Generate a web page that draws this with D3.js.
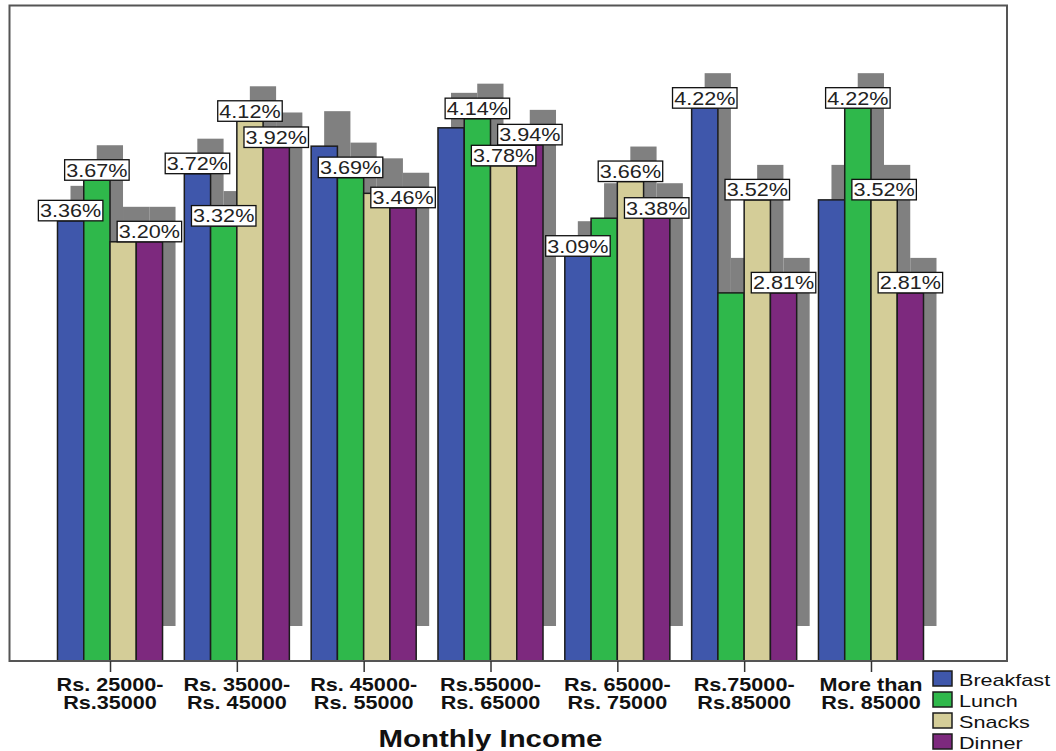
<!DOCTYPE html>
<html>
<head>
<meta charset="utf-8">
<script src="https://cdn.jsdelivr.net/npm/d3@7"></script>
<style>
  html, body { margin: 0; padding: 0; background: #fff; }
  svg { display: block; font-family: Arial, "Liberation Sans", sans-serif; }
</style>
</head>
<body>
<svg id="chart" width="1056" height="751"></svg>
<script>
// Monthly income groups (two-line axis labels)
const categories = [
  ["Rs. 25000-", "Rs.35000"],
  ["Rs. 35000-", "Rs. 45000"],
  ["Rs. 45000-", "Rs. 55000"],
  ["Rs.55000-", "Rs. 65000"],
  ["Rs. 65000-", "Rs. 75000"],
  ["Rs.75000-", "Rs.85000"],
  ["More than", "Rs. 85000"]
];
const seriesNames = ["Breakfast", "Lunch", "Snacks", "Dinner"];
const seriesColors = ["#3f57ab", "#2fb84b", "#d4cd98", "#7d297e"];

// Percentages per meal, one value per income group
const breakfast = [3.36, 3.72, 3.93, 4.07, 3.09, 4.22, 3.52];
const lunch     = [3.67, 3.32, 3.69, 4.14, 3.38, 2.81, 4.22];
const snacks    = [3.20, 4.12, 3.57, 3.78, 3.66, 3.52, 3.52];
const dinner    = [3.20, 3.92, 3.46, 3.94, 3.38, 2.81, 2.81];

// Which value labels are drawn (overlapping ones are left out)
const breakfastLabel = [true, true, false, false, true, true, false];
const lunchLabel     = [true, true, true, true, false, false, true];
const snacksLabel    = [false, true, false, true, true, true, true];
const dinnerLabel    = [true, true, true, true, true, true, true];

const yTicks = [0, 1, 2, 3, 4, 5];

const seriesValues = [breakfast, lunch, snacks, dinner];
const seriesLabels = [breakfastLabel, lunchLabel, snacksLabel, dinnerLabel];

const svg = d3.select("#chart");

// Plot frame
const frame = { left: 9.5, top: 5.5, right: 1007, bottom: 661 };
const SX = 1.2; // horizontal text stretch

const x0 = d3.scaleBand()
  .domain(d3.range(categories.length))
  .range([46.6, 934.4])
  .paddingInner(0).paddingOuter(0);

const x1 = d3.scaleBand()
  .domain(seriesNames)
  .range([0, x0.bandwidth()])
  .paddingInner(0).paddingOuter(0.415);

const y = d3.scaleLinear().domain([0, d3.max(yTicks)]).range([661, 6]);

// Flattened table built from the arrays
const table = [];
categories.forEach((c, i) => {
  seriesNames.forEach((s, j) => {
    table.push({ cat: i, series: s, si: j, value: seriesValues[j][i], showLabel: seriesLabels[j][i] });
  });
});

// Frame background
svg.append("rect")
  .attr("x", frame.left).attr("y", frame.top)
  .attr("width", frame.right - frame.left).attr("height", frame.bottom - frame.top)
  .attr("fill", "#fff");

const shadowDx = 13, shadowDy = -35;

// Drop shadows behind the bars
svg.append("g").selectAll("rect").data(table).join("rect")
  .attr("x", d => x0(d.cat) + x1(d.series) + shadowDx)
  .attr("y", d => y(d.value) + shadowDy)
  .attr("width", x1.bandwidth())
  .attr("height", d => y(0) - y(d.value))
  .attr("fill", "#808080");

// Bars
svg.append("g").selectAll("rect").data(table).join("rect")
  .attr("x", d => x0(d.cat) + x1(d.series))
  .attr("y", d => y(d.value))
  .attr("width", x1.bandwidth())
  .attr("height", d => y(0) - y(d.value))
  .attr("fill", d => seriesColors[d.si])
  .attr("stroke", "#1c1c1c")
  .attr("stroke-width", 1.5);

// Frame border
svg.append("rect")
  .attr("x", frame.left).attr("y", frame.top)
  .attr("width", frame.right - frame.left).attr("height", frame.bottom - frame.top)
  .attr("fill", "none")
  .attr("stroke", "#555")
  .attr("stroke-width", 2);

// X axis: ticks at group centres, labels drawn separately
const xAxis = d3.axisBottom(d3.scalePoint()
    .domain(d3.range(categories.length))
    .range([x0(0) + x0.bandwidth() / 2, x0(categories.length - 1) + x0.bandwidth() / 2]))
  .tickSize(11).tickFormat("");
const gx = svg.append("g").attr("transform", `translate(0,${frame.bottom})`).call(xAxis);
gx.select(".domain").remove();
gx.selectAll(".tick line").attr("stroke", "#333").attr("stroke-width", 1.5);

const catLabels = svg.append("g").selectAll("g").data(categories).join("g")
  .attr("transform", (d, i) => `translate(${x0(i) + x0.bandwidth() / 2},0)`);
catLabels.each(function(lines) {
  lines.forEach((line, k) => {
    d3.select(this).append("text")
      .attr("transform", `translate(0,${690.5 + k * 18}) scale(${SX},1)`)
      .attr("text-anchor", "middle")
      .attr("font-size", 18).attr("font-weight", "bold")
      .attr("fill", "#111")
      .text(line);
  });
});

// Axis title
svg.append("text")
  .attr("transform", `translate(${(x0(0) + x0(categories.length - 1) + x0.bandwidth()) / 2},746.5) scale(1.28,1)`)
  .attr("text-anchor", "middle")
  .attr("font-size", 23).attr("font-weight", "bold")
  .attr("fill", "#111")
  .text("Monthly Income");

// Value labels
const labelW = 64.5, labelH = 20.5;
const lbl = svg.append("g").selectAll("g").data(table.filter(d => d.showLabel)).join("g")
  .attr("transform", d => `translate(${x0(d.cat) + x1(d.series) + x1.bandwidth() / 2},${y(d.value)})`);
lbl.append("rect")
  .attr("x", -labelW / 2).attr("y", -labelH)
  .attr("width", labelW).attr("height", labelH)
  .attr("fill", "#fff").attr("stroke", "#111").attr("stroke-width", 1.3);
lbl.append("text")
  .attr("transform", `translate(0,-3.6) scale(${SX},1)`)
  .attr("text-anchor", "middle")
  .attr("font-size", 18)
  .attr("fill", "#222")
  .text(d => d3.format(".2f")(d.value) + "%");

// Legend
const legend = svg.append("g").selectAll("g").data(seriesNames).join("g")
  .attr("transform", (d, i) => `translate(933,${671 + i * 21})`);
legend.append("rect")
  .attr("width", 19).attr("height", 15)
  .attr("fill", (d, i) => seriesColors[i])
  .attr("stroke", "#1c1c1c").attr("stroke-width", 1.5);
legend.append("text")
  .attr("transform", `translate(26,14.5) scale(1.27,1)`)
  .attr("font-size", 17)
  .attr("fill", "#111")
  .text(d => d);
</script>
</body>
</html>
